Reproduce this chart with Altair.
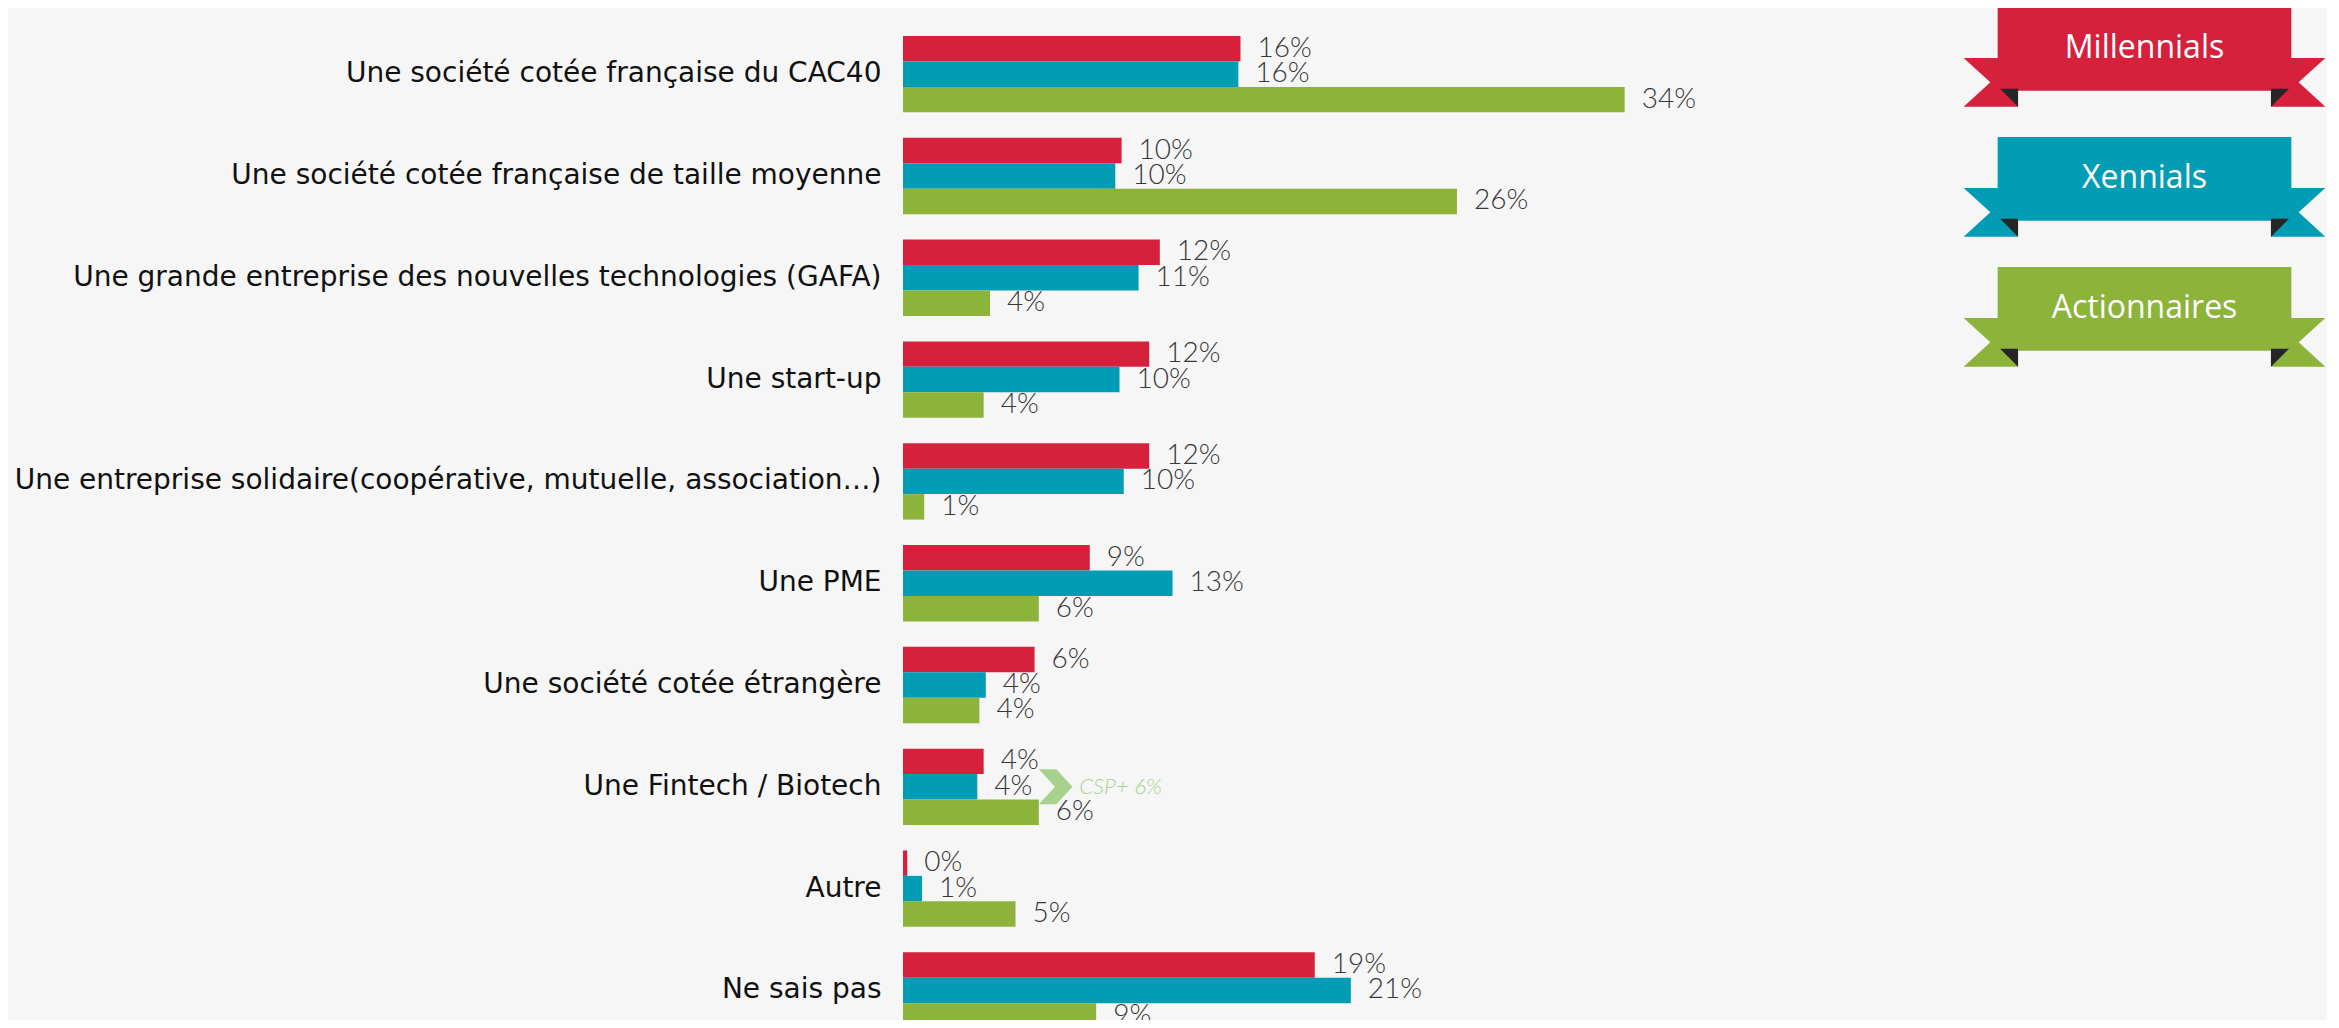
import altair as alt
import pandas as pd

categories = [
    "Une société cotée française du CAC40",
    "Une société cotée française de taille moyenne",
    "Une grande entreprise des nouvelles technologies (GAFA)",
    "Une start-up",
    "Une entreprise solidaire(coopérative, mutuelle, association…)",
    "Une PME",
    "Une société cotée étrangère",
    "Une Fintech / Biotech",
    "Autre",
    "Ne sais pas",
]
series = ["Millennials", "Xennials", "Actionnaires"]
colors = ["#d6203c", "#029db5", "#8cb33a"]

millennials = [15.9, 10.3, 12.1, 11.6, 11.6, 8.8, 6.2, 3.8, 0.2, 19.4]
xennials = [15.8, 10.0, 11.1, 10.2, 10.4, 12.7, 3.9, 3.5, 0.9, 21.1]
actionnaires = [34.0, 26.1, 4.1, 3.8, 1.0, 6.4, 3.6, 6.4, 5.3, 9.1]

millennials_labels = [16, 10, 12, 12, 12, 9, 6, 4, 0, 19]
xennials_labels = [16, 10, 11, 10, 10, 13, 4, 4, 1, 21]
actionnaires_labels = [34, 26, 4, 4, 1, 6, 4, 6, 5, 9]

annot_category = ["Une Fintech / Biotech"]
annot_value = [7.22]
annot_text = ["CSP+ 6%"]

rows = []
for s, vals, labs in zip(series, [millennials, xennials, actionnaires],
                         [millennials_labels, xennials_labels, actionnaires_labels]):
    for c, v, l in zip(categories, vals, labs):
        rows.append({"category": c, "series": s, "value": v, "label": f"{l}%"})
df = pd.DataFrame(rows)
annot_df = pd.DataFrame({"category": annot_category, "x": annot_value, "text": annot_text})
ribbon_df = pd.DataFrame({"series": series})

color = alt.Color("series:N", scale=alt.Scale(domain=series, range=colors), legend=None)
y = alt.Y(
    "category:N",
    sort=categories,
    scale=alt.Scale(domain=categories, paddingInner=0.25, paddingOuter=0, range=[0, 992.6]),
    axis=alt.Axis(title=None, ticks=False, domain=False, grid=False, labelFont="DejaVu Sans",
                  labelFontSize=28, labelColor="#111111", labelPadding=22, labelLimit=1500),
)
yoff = alt.YOffset("series:N", sort=series,
                   scale=alt.Scale(domain=series, paddingInner=0, paddingOuter=0))
xscale = alt.Scale(domain=[0, 40])
x = alt.X("value:Q", scale=xscale, axis=None)

bars = alt.Chart(df).mark_bar(cornerRadius=0).encode(x=x, y=y, yOffset=yoff, color=color)
texts = alt.Chart(df).mark_text(
    align="left", baseline="middle", dx=17, font="Lato", fontWeight=300,
    fontSize=28, color="#383838"
).encode(x=x, y=y, yOffset=yoff, text="label:N")

chevron_path = "M-0.99,-1 L0,-1 L0.93,0 L0,1 L-0.99,1 L-0.07,0 Z"
chevron = alt.Chart(annot_df).mark_point(
    shape=chevron_path, filled=True, size=1225, color="#a9d18e", opacity=1, strokeWidth=0
).encode(x=alt.X("x:Q", scale=xscale, axis=None), y=y)
csp = alt.Chart(annot_df).mark_text(
    align="left", baseline="middle", dx=23, font="Lato", fontStyle="italic", fontWeight=300,
    fontSize=22, color="#a9d18e"
).encode(x=alt.X("x:Q", scale=xscale, axis=None), y=y, text="text:N")

main = alt.layer(bars, texts, chevron, csp)

ribbon_body = ("M-0.812,-0.2314 L0.812,-0.2314 L0.812,0.2314 L-0.812,0.2314 Z "
               "M-1,0.0506 L-0.6992,0.0506 L-0.6992,0.3199 L-1,0.3199 L-0.8524,0.1852 Z "
               "M0.6992,0.0506 L1,0.0506 L0.8524,0.1852 L1,0.3199 L0.6992,0.3199 Z")
ribbon_fold = ("M-0.7987,0.2212 L-0.6992,0.2212 L-0.6992,0.3199 Z "
               "M0.6992,0.2212 L0.7987,0.2212 L0.6992,0.3199 Z")
ry = alt.Y("series:N", sort=series,
           scale=alt.Scale(type="point", domain=series, range=[12.85, 272.8], padding=0),
           axis=None)
rx = alt.value(1241.5)
rib = alt.Chart(ribbon_df).mark_point(
    shape=ribbon_body, filled=True, size=130829, opacity=1, strokeWidth=0
).encode(x=rx, y=ry, color=color)
fold = alt.Chart(ribbon_df).mark_point(
    shape=ribbon_fold, filled=True, size=130829, opacity=1, strokeWidth=0, color="#262626"
).encode(x=rx, y=ry)
rtext = alt.Chart(ribbon_df).mark_text(
    font="Open Sans", fontSize=32, color="white", align="center", baseline="middle", dy=-1
).encode(x=rx, y=ry, text="series:N")
legend = alt.layer(rib, fold, rtext)

chart = alt.layer(main, legend).resolve_scale(y="independent").properties(
    width=849,
    height=984,
    padding={"left": 895, "top": 28, "right": 575, "bottom": 0},
    autosize=alt.AutoSizeParams(type="none"),
    background="#f6f6f6",
).configure_view(stroke=None)

chart.save("out.html", embed_options={"renderer": "svg", "actions": False})
